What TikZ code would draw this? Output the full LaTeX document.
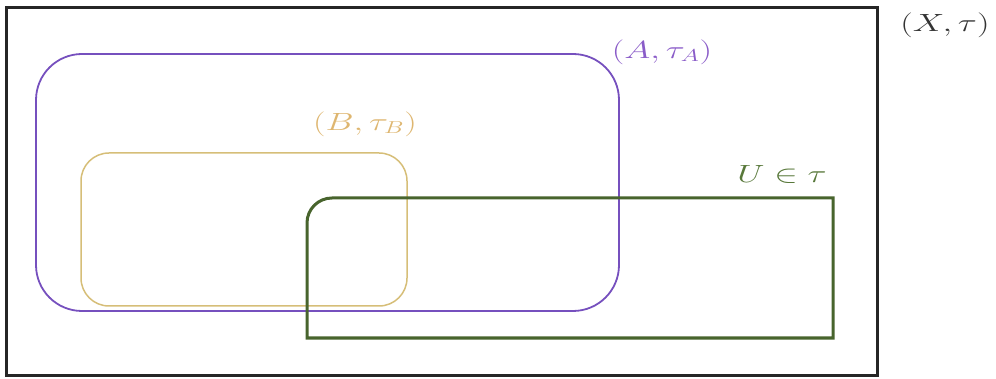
\documentclass[tikz,border=0pt]{standalone}
\usepackage{tikz}
\usepackage{graphicx}
\definecolor{purp}{RGB}{118,80,190}
\definecolor{purplab}{RGB}{138,92,200}
\definecolor{gold}{RGB}{214,190,120}
\definecolor{goldlab}{RGB}{222,182,112}
\definecolor{dgreen}{RGB}{72,100,45}
\definecolor{greenlab}{RGB}{88,120,58}
\newcommand{\widelab}[1]{\scalebox{1.42}[1]{#1}}
\tikzset{
  setbox/.style={draw, inner sep=0pt, outer sep=0pt},
  lab/.style={inner sep=0pt, font=\fontsize{27}{31}\selectfont}
}
\begin{document}
\begin{tikzpicture}[x=1pt,y=1pt]
\useasboundingbox (0,0) rectangle (996,-379);
% outer space
\node[setbox, line width=3pt, black!85, minimum width=871pt, minimum height=367pt] (X) at (441.5,-191.5) {};
% A
\node[setbox, line width=1.8pt, purp, rounded corners=46pt, minimum width=583pt, minimum height=257pt] (A) at (327.5,-182.5) {};
% B
\node[setbox, line width=1.5pt, gold, rounded corners=28pt, minimum width=326pt, minimum height=153pt] (B) at (244,-229.5) {};
% U
\coordinate (U1) at (307,-338);
\coordinate (U2) at (833,-198);
\draw[line width=3pt, dgreen] (U1) -- (307,-223) arc[start angle=180, end angle=90, radius=25] -- (U2) -- (833,-338) -- cycle;
% labels
\node[lab, black!80] (Xl) at (945,-25) {\widelab{$(X,\tau)$}};
\node[lab, purplab] (Al) at (662,-52) {\widelab{$(A,\tau_A)$}};
\node[lab, goldlab] (Bl) at (365,-124) {\widelab{$(B,\tau_B)$}};
\node[lab, greenlab] (Ul) at (782,-174) {\widelab{$U\in\tau$}};
\end{tikzpicture}
\end{document}
